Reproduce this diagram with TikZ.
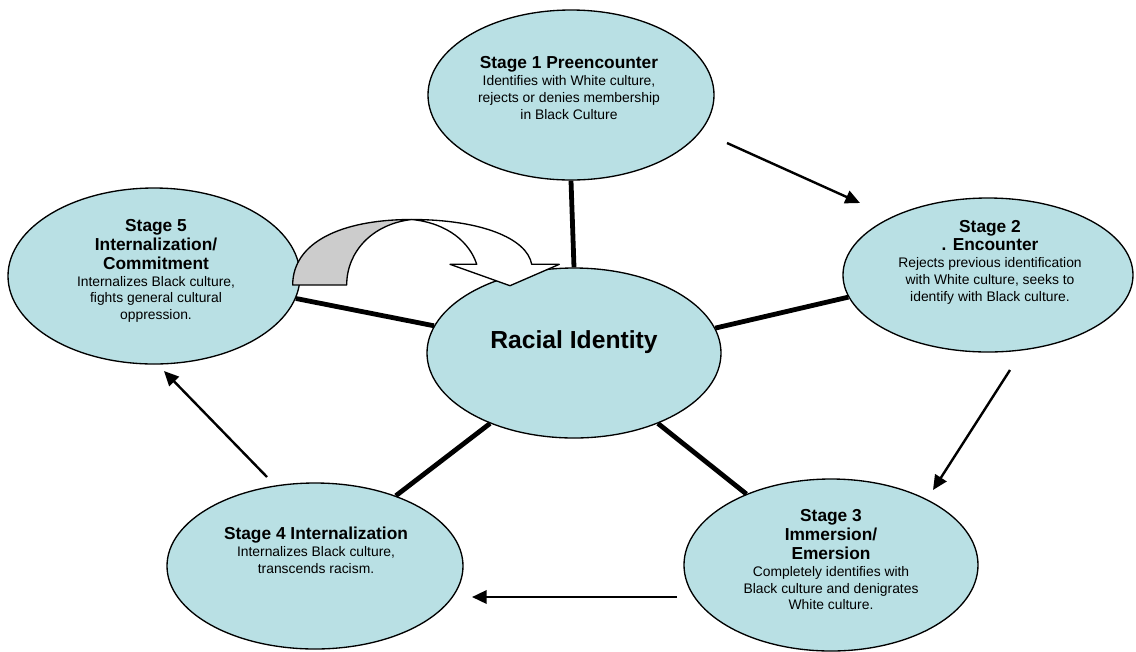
\documentclass[tikz,border=0pt]{standalone}
\usepackage{fontspec}
\setmainfont{Liberation Sans}
\usetikzlibrary{shapes.geometric,arrows.meta}
\definecolor{stagefill}{RGB}{185,224,228}
\definecolor{backgray}{RGB}{204,204,204}
\newcommand\hd[1]{{\fontsize{13}{15}\selectfont\bfseries #1}}
\begin{document}
\begin{tikzpicture}[x=0.75pt,y=-0.75pt,
  stage/.style={ellipse,draw=black,line width=1pt,fill=stagefill,inner sep=0pt},
  txt/.style={align=center,font=\fontsize{10.4}{12.6}\selectfont,inner sep=0pt},
  spoke/.style={line width=3.6pt},
  flow/.style={line width=1.8pt,-{Triangle[length=11pt,width=10pt]}},
  band/.style={draw=black,line width=1pt,line join=round}
  ]
\useasboundingbox (0,0) rectangle (1136,651);

% ellipses
\node[stage,minimum width=214.5pt,minimum height=127.5pt] (s1) at (571,95) {};
\node[stage,minimum width=217.5pt,minimum height=115.5pt] (s2) at (988,275) {};
\node[stage,minimum width=219pt,minimum height=132pt] (s5) at (154,276) {};
\node[stage,minimum width=220.5pt,minimum height=127.5pt] (ri) at (574,353) {};
\node[stage,minimum width=220.5pt,minimum height=129pt] (s3) at (831,565) {};
\node[stage,minimum width=222pt,minimum height=124.5pt] (s4) at (315,566) {};

% spokes
\draw[spoke] (ri.90) -- (s1.270);
\draw[spoke] (ri.10) -- (s2.189.5);
\draw[spoke] (ri.169) -- (s5.-9.6);
\draw[spoke] (ri.220) -- (s4.41);
\draw[spoke] (ri.320) -- (s3.140);

% texts
\node[txt] (t1) at (569,88) {\hd{Stage 1 Preencounter}\\Identifies with White culture,\\rejects or denies membership\\in Black Culture};
\node[txt] (t2) at (990,262) {\hd{Stage 2}\\[1.5pt]\hd{. Encounter}\\Rejects previous identification\\with White culture, seeks to\\identify with Black culture.};
\node[txt] (t5) at (156,271) {\hd{Stage 5}\\[1.5pt]\hd{Internalization/}\\[1.5pt]\hd{Commitment}\\Internalizes Black culture,\\fights general cultural\\oppression.};
\node[txt] (t3) at (831,560) {\hd{Stage 3}\\[1.5pt]\hd{Immersion/}\\[1.5pt]\hd{Emersion}\\Completely identifies with\\Black culture and denigrates\\White culture.};
\node[txt] (t4) at (316,550) {\hd{Stage 4 Internalization}\\Internalizes Black culture,\\transcends racism.};
\node[txt,font=\fontsize{18.5}{22}\selectfont\bfseries] (tri) at (574,342) {Racial Identity};

% flow arrows
\coordinate (a1s) at (727,143); \coordinate (a1e) at (860,203);
\coordinate (a2s) at (1010,370); \coordinate (a2e) at (933,490);
\coordinate (a3s) at (677,597); \coordinate (a3e) at (472,597);
\coordinate (a4s) at (267,477); \coordinate (a4e) at (164,371);
\draw[flow] (a1s) -- (a1e);
\draw[flow] (a2s) -- (a2e);
\draw[flow] (a3s) -- (a3e);
\draw[flow] (a4s) -- (a4e);

% curved block arrow
\draw[band,fill=backgray] (292.7,285) -- (346.7,285)
  .. controls (346.7,252) and (372,224) .. (411.7,219.5)
  .. controls (340,219.5) and (292.7,243) .. cycle;
\draw[band,fill=white] (411.7,219.5)
  .. controls (480,219.5) and (527,238) .. (531.7,264.3)
  -- (559.3,264.3) -- (510,285.7) -- (450,264.3) -- (476.7,264.3)
  .. controls (470,243) and (448,223) .. cycle;
\end{tikzpicture}
\end{document}
